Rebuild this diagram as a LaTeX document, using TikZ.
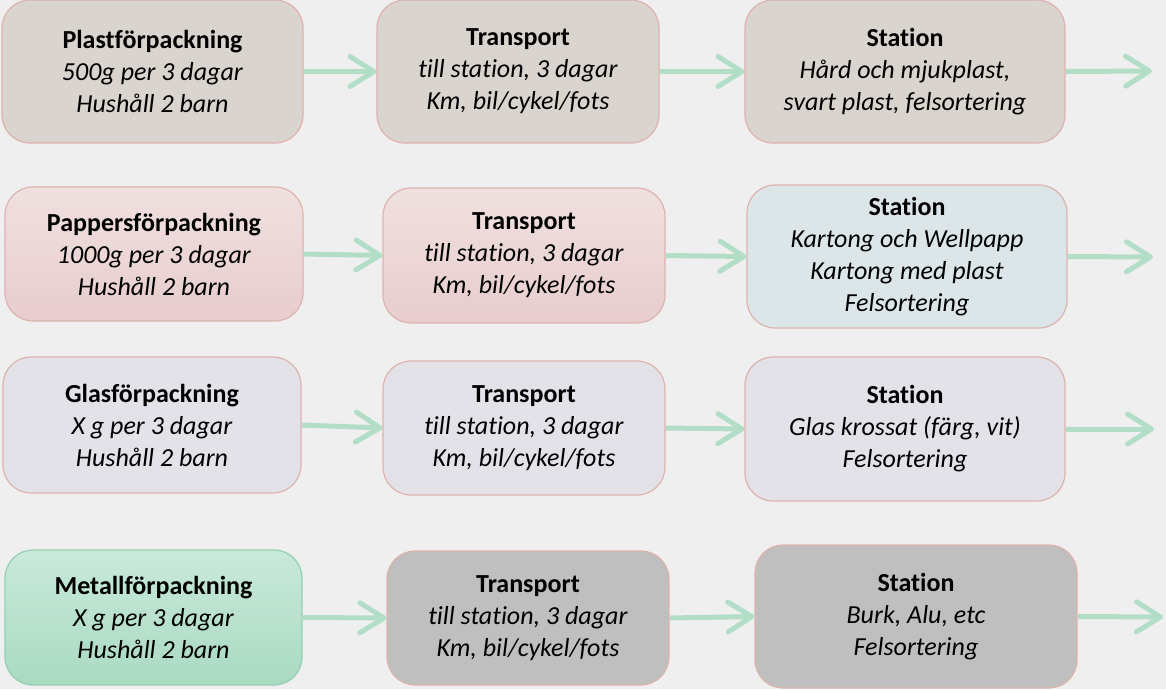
\documentclass[tikz,border=0pt]{standalone}
\usepackage{fontspec}
\setmainfont{Carlito}[Ligatures=NoCommon]
\usetikzlibrary{arrows.meta}
\definecolor{bg}{HTML}{EFEFEF}
\definecolor{edgepink}{HTML}{DDB3AE}
\definecolor{edgegreen}{HTML}{95CFB3}
\definecolor{taupe}{HTML}{D9D4CD}
\definecolor{pinktop}{HTML}{F0E0E0}
\definecolor{pinkbot}{HTML}{E8CDCD}
\definecolor{bluegrey}{HTML}{DCE6E8}
\definecolor{lavender}{HTML}{E3E2E8}
\definecolor{greentop}{HTML}{C9E9DB}
\definecolor{greenbot}{HTML}{AADAC2}
\definecolor{midgrey}{HTML}{BFBFBF}
\definecolor{flowgreen}{HTML}{B2DEC8}
\begin{document}
\begin{tikzpicture}[x=1pt,y=-1pt,
  box/.style={draw=edgepink, line width=1.2pt, rounded corners=28pt,
    inner sep=0pt, align=center, font=\fontsize{26}{32}\selectfont},
  flow/.style={draw=flowgreen, line width=5pt,
    -{Straight Barb[length=24pt,width=30pt,line cap=round,line join=round]}}]
\useasboundingbox (0,0) rectangle (1166,689);
\fill[bg] (0,0) rectangle (1166,689);

% Row 1: plastic
\node[box, fill=taupe, minimum width=301pt, minimum height=143pt] (p1) at (152.5,71.5)
  {\textbf{Plastförpackning}\\\textit{500g per 3 dagar}\\\textit{Hushåll 2 barn}};
\node[box, fill=taupe, minimum width=282pt, minimum height=143pt] (t1) at (518,71.5)
  {\textbf{Transport}\\\textit{till station, 3 dagar}\\\textit{Km, bil/cykel/fots}};
\node[box, fill=taupe, minimum width=320pt, minimum height=143pt] (s1) at (905,71.5)
  {\textbf{Station}\\\textit{Hård och mjukplast,}\\\textit{svart plast, felsortering}};
\coordinate (e1) at (1152,71);

% Row 2: paper
\node[box, top color=pinktop, bottom color=pinkbot, minimum width=298pt, minimum height=134pt] (p2) at (154,254)
  {\textbf{Pappersförpackning}\\\textit{1000g per 3 dagar}\\\textit{Hushåll 2 barn}};
\node[box, top color=pinktop, bottom color=pinkbot, minimum width=282pt, minimum height=135pt] (t2) at (524,255.5)
  {\textbf{Transport}\\\textit{till station, 3 dagar}\\\textit{Km, bil/cykel/fots}};
\node[box, fill=bluegrey, minimum width=320pt, minimum height=143pt] (s2) at (907,256.5)
  {\textbf{Station}\\\textit{Kartong och Wellpapp}\\\textit{Kartong med plast}\\\textit{Felsortering}};
\coordinate (e2) at (1153,257);

% Row 3: glass
\node[box, fill=lavender, minimum width=298pt, minimum height=136pt] (p3) at (152,425)
  {\textbf{Glasförpackning}\\\textit{X g per 3 dagar}\\\textit{Hushåll 2 barn}};
\node[box, fill=lavender, minimum width=282pt, minimum height=134pt] (t3) at (524,428)
  {\textbf{Transport}\\\textit{till station, 3 dagar}\\\textit{Km, bil/cykel/fots}};
\node[box, fill=lavender, minimum width=320pt, minimum height=144pt] (s3) at (905,429)
  {\textbf{Station}\\\textit{Glas krossat (färg, vit)}\\\textit{Felsortering}};
\coordinate (e3) at (1154,429);

% Row 4: metal
\node[box, draw=edgegreen, top color=greentop, bottom color=greenbot, minimum width=297pt, minimum height=135pt] (p4) at (153.5,617.5)
  {\textbf{Metallförpackning}\\\textit{X g per 3 dagar}\\\textit{Hushåll 2 barn}};
\node[box, fill=midgrey, minimum width=282pt, minimum height=134pt] (t4) at (528,618)
  {\textbf{Transport}\\\textit{till station, 3 dagar}\\\textit{Km, bil/cykel/fots}};
\node[box, fill=midgrey, minimum width=322pt, minimum height=143pt] (s4) at (916,616.5)
  {\textbf{Station}\\\textit{Burk, Alu, etc}\\\textit{Felsortering}};
\coordinate (e4) at (1163,617);

% Flow arrows
\foreach \r in {1,2,3,4}{
  \draw[flow] (p\r.east) -- (t\r.west);
  \draw[flow] (t\r.east) -- (s\r.west);
  \draw[flow] (s\r.east) -- (e\r);
}
\end{tikzpicture}
\end{document}
